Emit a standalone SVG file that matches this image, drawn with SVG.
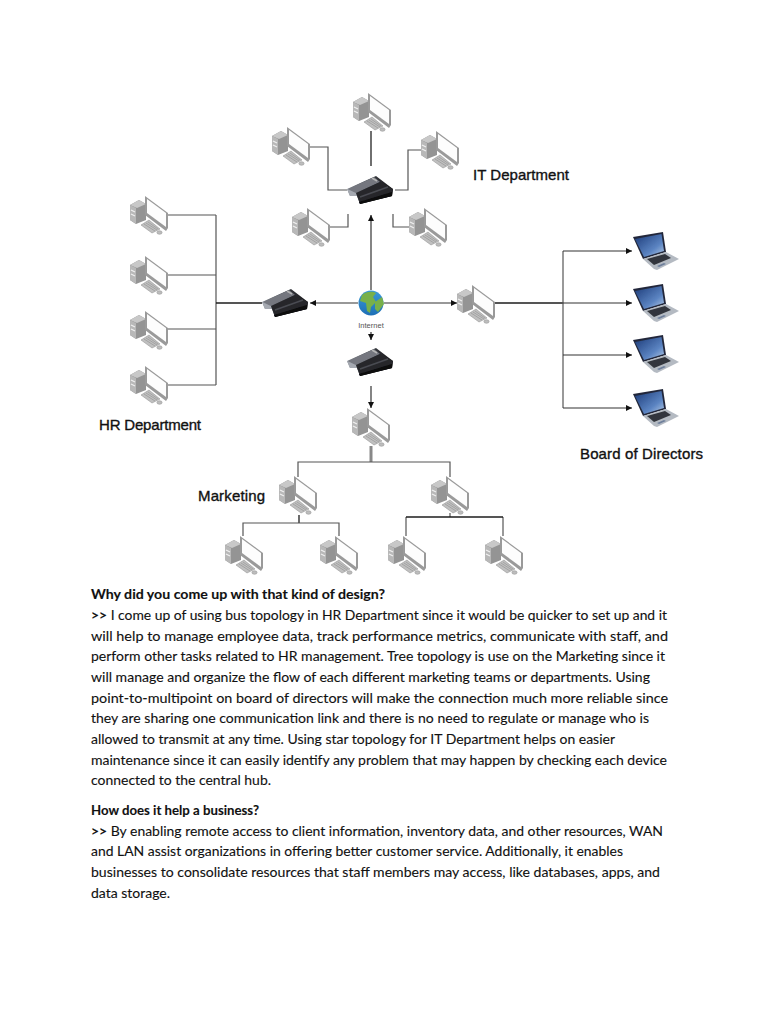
<svg xmlns="http://www.w3.org/2000/svg" width="768" height="1024" viewBox="0 0 768 1024">
<style>
text{font-family:"Liberation Sans",Arial,sans-serif;fill:#111}
.lab{font-size:15px;stroke:#111;stroke-width:.35}
.net{font-size:7.500px;fill:#555}
.b{font-family:Lato,"Open Sans",sans-serif;font-size:13.6px;fill:#111;stroke:#111;stroke-width:.12}
.bb{font-weight:700}
.g{fill:none;stroke:#555;stroke-width:1.2}
.d{fill:none;stroke:#333;stroke-width:1.4}
.k{fill:none;stroke:#1c1c1c;stroke-width:1.3}
.a{fill:none;stroke:#333;stroke-width:1.2;marker-end:url(#ah)}
</style>
<defs>
<filter id="soft" x="-10%" y="-10%" width="120%" height="120%"><feGaussianBlur stdDeviation=".35"/></filter>
<marker id="ah" markerWidth="7" markerHeight="7" refX="6" refY="3" orient="auto" markerUnits="userSpaceOnUse"><path d="M0 0L6 3L0 6z" fill="#111"/></marker>
<linearGradient id="scr" x1="0" y1="0" x2="1" y2="1"><stop offset="0" stop-color="#1b3a78"/><stop offset=".65" stop-color="#5b84c2"/><stop offset="1" stop-color="#b5cbe6"/></linearGradient>
<linearGradient id="rt" x1="0" y1="0" x2="1" y2="0"><stop offset="0" stop-color="#8f939b"/><stop offset=".4" stop-color="#4a4c52"/><stop offset="1" stop-color="#121214"/></linearGradient>
<linearGradient id="sea" x1="0" y1="0" x2="0" y2="1"><stop offset="0" stop-color="#3a9ad8"/><stop offset="1" stop-color="#1e6fb5"/></linearGradient>
<g id="pc" filter="url(#soft)">
<path d="M0 9L9 4L16 8L16 24L6 28L0 24z" fill="#949494"/>
<path d="M0 9L9 4L16 8L7 12z" fill="#c8c8c8"/>
<path d="M0 9L6 12L6 28L0 24z" fill="#b8b8b8"/>
<path d="M1 14L5 16M1 18L5 20" stroke="#f0f0f0" stroke-width="1.300"/>
<path d="M15 0L38 17L38 32L36 35L15 19z" fill="#9a9a9a"/>
<path d="M17 3L36 17L36 31L17 17z" fill="#fdfdfd"/>
<path d="M11 29L19 24L30 33L22 37z" fill="#c0c0c0" stroke="#8a8a8a" stroke-width=".5"/>
<path d="M14 28L25 35M16 27L27 34M18 26L28 33" stroke="#868686" stroke-width=".5"/>
<ellipse cx="29.500" cy="36.500" rx="2.600" ry="1.800" fill="#bdbdbd" stroke="#888" stroke-width=".5"/>
</g>
<g id="router" filter="url(#soft)">
<path d="M0 13L29 0L46 13L45 20L13 28L10 20L3 20z" fill="url(#rt)"/>
<path d="M1 13L27 1L33 6L9 17z" fill="#74777f"/>
<path d="M0 13L9 17L10 20L3 20z" fill="#a5a9b1"/>
<path d="M9 17L33 6L46 13L45 20L13 28z" fill="#26272b"/>
<path d="M12 26L45 16L45 20L13 28z" fill="#08080a"/>
<path d="M13 21L41 11" stroke="#4a4c52" stroke-width="1.500"/>
<path d="M25 2L30 5" stroke="#b5b5b5" stroke-width="1.500"/>
</g>
<g id="laptop" filter="url(#soft)">
<path d="M0 5L30 0L33 20L10 27z" fill="#23283a"/>
<path d="M2 7L28.500 2L31 19L11 25z" fill="url(#scr)"/>
<path d="M10 27L33 20L46 27L24 38L21 37z" fill="#b4bac2"/>
<path d="M14 27L32 22L38 26L21 33z" fill="#33363c"/>
<path d="M24 34L31 31L33 32L26 35z" fill="#6e7f9b"/>
</g>
</defs>
<rect width="768" height="1024" fill="#fff"/>
<g id="connectors">
<path class="d" d="M371 131V166"/>
<path class="g" d="M309 147H328V190H347M421 150H408V190H395M309 227H348V214M409 227H393V214"/>
<path class="a" d="M371 290V215"/>
<path class="g" d="M168 215H216M168 275H216M168 329H216M168 385H216M216 215V385"/>
<path class="k" d="M216 303H262"/>
<path class="a" d="M358 303H310"/>
<path class="a" d="M384 303H457"/>
<path class="k" d="M495 303H563"/>
<path class="g" d="M563 251V408"/>
<path class="a" d="M563 251H632"/>
<path class="a" d="M563 303H632"/>
<path class="a" d="M563 355H632"/>
<path class="a" d="M563 408H632"/>
<path class="a" d="M371 332V340"/>
<path class="a" d="M371 386V408"/>
<path d="M371 446V462" fill="none" stroke="#888" stroke-width="3"/>
<path class="g" d="M298 477V462H450V477"/>
<path class="k" d="M299 515V523"/>
<path class="g" d="M243 536V523H339V536"/>
<path class="g" d="M450 513V517"/>
<path class="g" d="M406 536V517"/><path class="g" d="M503 536V517"/>
<path class="k" d="M406 517H503"/>
</g>
<g id="it-pc1"><use href="#pc" x="353" y="93"/></g>
<g id="it-pc2"><use href="#pc" x="272" y="127"/></g>
<g id="it-pc3"><use href="#pc" x="421" y="131"/></g>
<g id="it-pc4"><use href="#pc" x="292" y="208"/></g>
<g id="it-pc5"><use href="#pc" x="409" y="208"/></g>
<g id="it-router"><use href="#router" x="347" y="176"/></g>
<g id="hr-pc1"><use href="#pc" x="130" y="196"/></g>
<g id="hr-pc2"><use href="#pc" x="130" y="256"/></g>
<g id="hr-pc3"><use href="#pc" x="130" y="311"/></g>
<g id="hr-pc4"><use href="#pc" x="130" y="366"/></g>
<g id="hr-router"><use href="#router" x="262" y="289"/></g>
<g id="internet">
<circle cx="371" cy="303" r="12.500" fill="url(#sea)"/>
<path d="M362 295C366 291 373 291 376 293L373 297L376 302L371 307L370 313L367 311L366 303L360 301zM375 302L382 297L384 304L378 312L375 309z" fill="#78b04a"/>
<text class="net" x="371" y="328" text-anchor="middle">Internet</text>
</g>
<g id="mkt-router"><use href="#router" x="347" y="348"/></g>
<g id="board-pc"><use href="#pc" x="457" y="285"/></g>
<g id="laptop1"><use href="#laptop" x="633" y="232"/></g>
<g id="laptop2"><use href="#laptop" x="633" y="284"/></g>
<g id="laptop3"><use href="#laptop" x="633" y="335"/></g>
<g id="laptop4"><use href="#laptop" x="633" y="389"/></g>
<g id="mkt-pc0"><use href="#pc" x="352" y="408"/></g>
<g id="mkt-pc1"><use href="#pc" x="279" y="476"/></g>
<g id="mkt-pc2"><use href="#pc" x="431" y="476"/></g>
<g id="mkt-pc3"><use href="#pc" x="225" y="536"/></g>
<g id="mkt-pc4"><use href="#pc" x="320" y="536"/></g>
<g id="mkt-pc5"><use href="#pc" x="388" y="536"/></g>
<g id="mkt-pc6"><use href="#pc" x="485" y="536"/></g>
<g id="labels">
<text class="lab" x="473" y="180" textLength="96">IT Department</text>
<text class="lab" x="99" y="430" textLength="102">HR Department</text>
<text class="lab" x="580" y="459" textLength="123">Board of Directors</text>
<text class="lab" x="198" y="501" textLength="67">Marketing</text>
</g>
<g id="body">
<text class="b bb" x="91" y="599" textLength="294" lengthAdjust="spacingAndGlyphs">Why did you come up with that kind of design?</text>
<text class="b" x="91" y="620" textLength="576" lengthAdjust="spacingAndGlyphs"><tspan class="bb">&gt;&gt;</tspan> I come up of using bus topology in HR Department since it would be quicker to set up and it</text>
<text class="b" x="91" y="641" textLength="577" lengthAdjust="spacingAndGlyphs">will help to manage employee data, track performance metrics, communicate with staff, and</text>
<text class="b" x="91" y="661" textLength="574" lengthAdjust="spacingAndGlyphs">perform other tasks related to HR management. Tree topology is use on the Marketing since it</text>
<text class="b" x="91" y="682" textLength="559" lengthAdjust="spacingAndGlyphs">will manage and organize the flow of each different marketing teams or departments. Using</text>
<text class="b" x="91" y="703" textLength="577" lengthAdjust="spacingAndGlyphs">point-to-multipoint on board of directors will make the connection much more reliable since</text>
<text class="b" x="91" y="723" textLength="558" lengthAdjust="spacingAndGlyphs">they are sharing one communication link and there is no need to regulate or manage who is</text>
<text class="b" x="91" y="744" textLength="524" lengthAdjust="spacingAndGlyphs">allowed to transmit at any time. Using star topology for IT Department helps on easier</text>
<text class="b" x="91" y="765" textLength="576" lengthAdjust="spacingAndGlyphs">maintenance since it can easily identify any problem that may happen by checking each device</text>
<text class="b" x="91" y="785" textLength="180" lengthAdjust="spacingAndGlyphs">connected to the central hub.</text>
<text class="b bb" x="91" y="815" textLength="168" lengthAdjust="spacingAndGlyphs">How does it help a business?</text>
<text class="b" x="91" y="836" textLength="572" lengthAdjust="spacingAndGlyphs"><tspan class="bb">&gt;&gt;</tspan> By enabling remote access to client information, inventory data, and other resources, WAN</text>
<text class="b" x="91" y="856" textLength="532" lengthAdjust="spacingAndGlyphs">and LAN assist organizations in offering better customer service. Additionally, it enables</text>
<text class="b" x="91" y="877" textLength="569" lengthAdjust="spacingAndGlyphs">businesses to consolidate resources that staff members may access, like databases, apps, and</text>
<text class="b" x="91" y="898" textLength="79" lengthAdjust="spacingAndGlyphs">data storage.</text>
</g>
</svg>
